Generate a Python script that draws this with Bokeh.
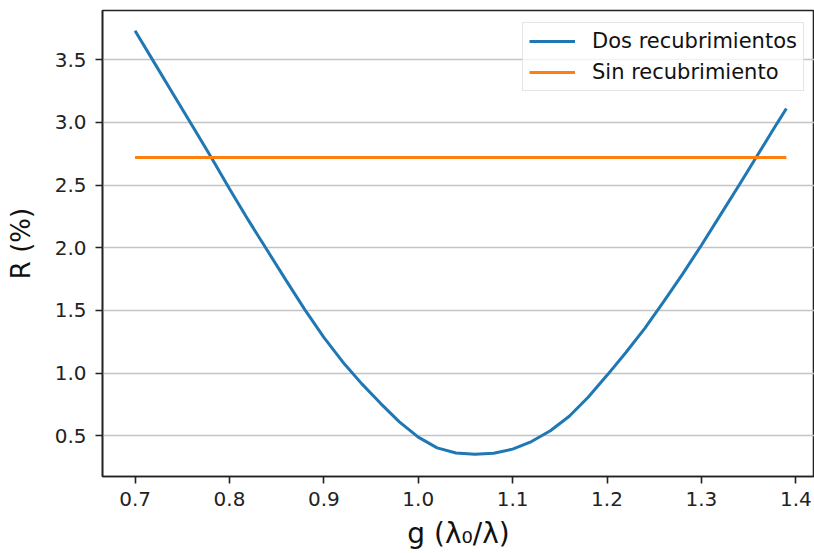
from bokeh.plotting import figure
from bokeh.models import FixedTicker, Legend, LegendItem
from bokeh.embed import file_html
from bokeh.resources import INLINE

# Reflectance vs normalised wavelength g = lambda0 / lambda (two-layer coating)
g_dos = [0.70, 0.72, 0.74, 0.76, 0.78, 0.80, 0.82, 0.84, 0.86, 0.88,
         0.90, 0.92, 0.94, 0.96, 0.98, 1.00, 1.02, 1.04, 1.06, 1.08,
         1.10, 1.12, 1.14, 1.16, 1.18, 1.20, 1.22, 1.24, 1.26, 1.28,
         1.30, 1.32, 1.34, 1.36, 1.38, 1.39]
r_dos = [3.73, 3.48, 3.23, 2.98, 2.73, 2.47, 2.22, 1.98, 1.74, 1.505,
         1.285, 1.09, 0.917, 0.76, 0.612, 0.49, 0.405, 0.364, 0.354, 0.362,
         0.395, 0.455, 0.541, 0.657, 0.808, 0.983, 1.165, 1.357, 1.57, 1.79,
         2.02, 2.26, 2.50, 2.745, 2.99, 3.11]

# Uncoated surface: constant reflectance
g_sin = [0.70, 1.39]
r_sin = [2.72, 2.72]

x_ticks = [0.7, 0.8, 0.9, 1.0, 1.1, 1.2, 1.3, 1.4]
x_tick_labels = ["0.7", "0.8", "0.9", "1.0", "1.1", "1.2", "1.3", "1.4"]
y_ticks = [0.5, 1.0, 1.5, 2.0, 2.5, 3.0, 3.5]
y_tick_labels = ["0.5", "1.0", "1.5", "2.0", "2.5", "3.0", "3.5"]

FONT = "DejaVu Sans"
BLUE = "#1f77b4"
ORANGE = "#ff7f0e"

p = figure(width=814, height=553, output_backend="svg", toolbar_location=None,
           x_range=(0.6655, 1.4198), y_range=(0.1765, 3.8915),
           min_border_left=102, min_border_right=0, min_border_top=10,
           min_border_bottom=77)

p.background_fill_color = "white"
p.border_fill_color = "white"
p.outline_line_color = "#222222"
p.outline_line_width = 1.6

p.xgrid.visible = False
p.ygrid.grid_line_color = "#c4c4c4"
p.ygrid.grid_line_width = 1.6
p.ygrid.ticker = FixedTicker(ticks=y_ticks)

p.xaxis.ticker = FixedTicker(ticks=x_ticks)
p.xaxis.major_label_overrides = dict(zip(x_ticks, x_tick_labels))
p.yaxis.ticker = FixedTicker(ticks=y_ticks)
p.yaxis.major_label_overrides = dict(zip(y_ticks, y_tick_labels))

for ax in (p.xaxis, p.yaxis):
    ax.axis_line_color = "#222222"
    ax.axis_line_width = 1.6
    ax.major_tick_line_color = "#222222"
    ax.major_tick_line_width = 1.6
    ax.major_tick_out = 7
    ax.major_tick_in = 0
    ax.minor_tick_line_color = None
    ax.major_label_text_font = FONT
    ax.major_label_text_font_size = "20px"
    ax.major_label_text_color = "#222222"
    ax.axis_label_text_font = FONT
    ax.axis_label_text_font_style = "normal"
    ax.axis_label_text_color = "#111111"

p.xaxis.major_label_standoff = 8
p.yaxis.major_label_standoff = 9
p.xaxis.axis_label = "g (λ₀/λ)"
p.xaxis.axis_label_text_font_size = "28px"
p.xaxis.axis_label_standoff = 8
p.yaxis.axis_label = "R (%)"
p.yaxis.axis_label_text_font_size = "26px"
p.yaxis.axis_label_standoff = 16

l_dos = p.line(g_dos, r_dos, line_color=BLUE, line_width=3)
l_sin = p.line(g_sin, r_sin, line_color=ORANGE, line_width=3)

legend = Legend(items=[LegendItem(label="Dos recubrimientos", renderers=[l_dos]),
                       LegendItem(label="Sin recubrimiento", renderers=[l_sin])],
                location=(420, 385))
legend.margin = 0
legend.padding = 6
legend.spacing = 7
legend.glyph_width = 46
legend.glyph_height = 20
legend.label_height = 20
legend.label_standoff = 17
legend.label_text_font = FONT
legend.label_text_font_size = "21px"
legend.label_text_color = "#111111"
legend.border_line_color = "#cccccc"
legend.border_line_width = 1.5
legend.background_fill_color = "white"
legend.background_fill_alpha = 0.8
p.add_layout(legend)

open("out.html", "w").write(file_html(p, INLINE))
